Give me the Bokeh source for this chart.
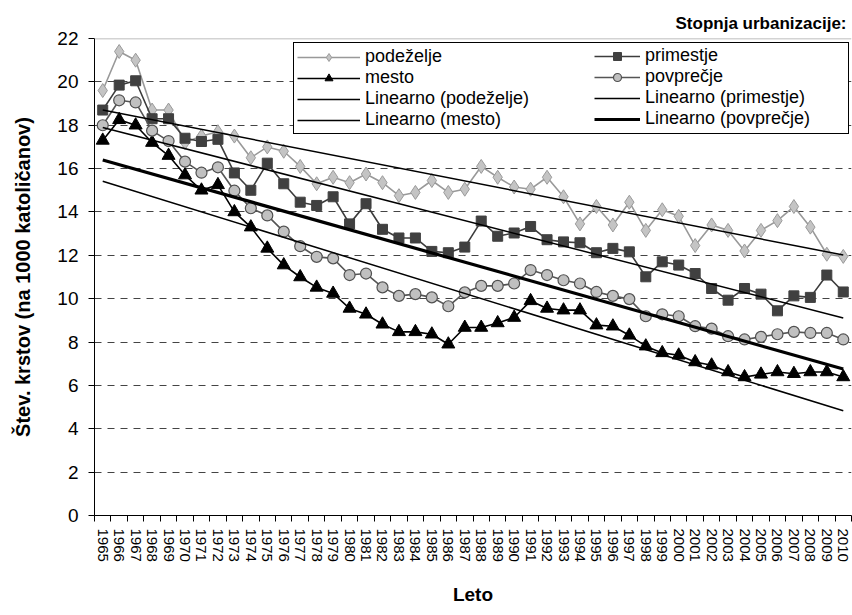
import numpy as np
from bokeh.plotting import figure
from bokeh.models import Range1d, FixedTicker, Legend, LegendItem, Span
from bokeh.embed import file_html
from bokeh.resources import INLINE

# ---- data ----
years = list(range(1965, 2011))
y_ticks = list(range(0, 23, 2))

podezelje = [19.6, 21.4, 21.0, 18.7, 18.7, 17.2, 17.5, 17.7, 17.5, 16.5,
             17.0, 16.8, 16.1, 15.3, 15.6, 15.35, 15.75, 15.35, 14.75, 14.9,
             15.45, 14.9, 15.05, 16.1, 15.6, 15.15, 15.05, 15.6, 14.7, 13.45,
             14.25, 13.4, 14.45, 13.15, 14.1, 13.8, 12.45, 13.4, 13.15, 12.2,
             13.15, 13.6, 14.25, 13.3, 12.05, 11.95]
primestje = [18.7, 19.85, 20.05, 18.3, 18.3, 17.4, 17.25, 17.35, 15.8, 15.0,
             16.25, 15.3, 14.45, 14.3, 14.7, 13.45, 14.38, 13.2, 12.8, 12.8,
             12.18, 12.12, 12.38, 13.58, 12.88, 13.03, 13.33, 12.72, 12.62, 12.58,
             12.12, 12.32, 12.16, 11.01, 11.7, 11.55, 11.16, 10.47, 9.93, 10.47,
             10.21, 9.44, 10.13, 10.06, 11.09, 10.31]
mesto = [17.3, 18.25, 18.0, 17.2, 16.6, 15.7, 15.0, 15.25, 14.0, 13.3,
         12.32, 11.55, 11.0, 10.52, 10.24, 9.55, 9.28, 8.82, 8.47, 8.47,
         8.36, 7.9, 8.67, 8.67, 8.88, 9.13, 9.9, 9.55, 9.47, 9.47,
         8.78, 8.73, 8.31, 7.81, 7.5, 7.39, 7.08, 6.93, 6.62, 6.39,
         6.51, 6.62, 6.54, 6.62, 6.62, 6.39]
povprecje = [18.0, 19.15, 19.05, 17.75, 17.27, 16.32, 15.81, 16.06, 14.98, 14.17,
             13.84, 13.09, 12.42, 11.93, 11.86, 11.09, 11.16, 10.52, 10.13, 10.21,
             10.06, 9.65, 10.29, 10.59, 10.59, 10.7, 11.32, 11.09, 10.85, 10.7,
             10.31, 10.13, 9.98, 9.19, 9.28, 9.19, 8.73, 8.62, 8.27, 8.12,
             8.24, 8.36, 8.47, 8.42, 8.42, 8.12]

FONT = "Liberation Sans"

p = figure(width=852, height=615, output_backend="svg", toolbar_location=None,
           x_range=Range1d(years[0] - 0.5, years[-1] + 0.5),
           y_range=Range1d(y_ticks[0], y_ticks[-1]),
           min_border_left=94, min_border_right=1, min_border_top=38,
           min_border_bottom=100)
p.outline_line_color = None
p.background_fill_color = "white"

p.title.text = "Stopnja urbanizacije:"
p.title.align = "right"
p.title.text_font = FONT
p.title.text_font_size = "17px"
p.title.text_font_style = "bold"
p.title.text_color = "black"
p.title.standoff = 12
p.title.offset = 5

# x axis
xa = p.xaxis[0]
xa.ticker = FixedTicker(ticks=years, minor_ticks=[y - 0.5 for y in years] + [years[-1] + 0.5])
xa.major_tick_out = 0
xa.major_tick_in = 0
xa.minor_tick_out = 6
xa.minor_tick_in = 0
xa.minor_tick_line_color = "black"
xa.major_label_orientation = "vertical"
xa.major_label_text_font = FONT
xa.major_label_text_font_size = "15px"
xa.major_label_text_color = "black"
xa.major_label_standoff = 7
xa.axis_line_color = "black"
xa.axis_label = "Leto"
xa.axis_label_text_font = FONT
xa.axis_label_text_font_size = "19px"
xa.axis_label_text_font_style = "bold"
xa.axis_label_text_color = "black"
xa.axis_label_standoff = 19

# y axis
ya = p.yaxis[0]
ya.ticker = FixedTicker(ticks=y_ticks)
ya.minor_tick_line_color = None
ya.major_tick_out = 6
ya.major_tick_in = 0
ya.major_tick_line_color = "black"
ya.axis_line_color = "black"
ya.major_label_text_font = FONT
ya.major_label_text_font_size = "19px"
ya.major_label_text_color = "black"
ya.major_label_standoff = 10
ya.axis_label = "Štev. krstov (na 1000 katoličanov)"
ya.axis_label_text_font = FONT
ya.axis_label_text_font_size = "20px"
ya.axis_label_text_font_style = "bold"
ya.axis_label_text_color = "black"
ya.axis_label_standoff = 20

p.xgrid.visible = False
p.ygrid.ticker = FixedTicker(ticks=y_ticks[1:-1])
p.ygrid.grid_line_color = "#444444"
p.ygrid.grid_line_dash = "7 6"
p.ygrid.grid_line_width = 1

p.add_layout(Span(location=y_ticks[-1], dimension="width", line_color="#a8a8a8", line_width=1.5))

# series
l_pod = p.line(years, podezelje, line_color="#999999", line_width=1.6)
s_pod = p.scatter(years, podezelje, marker="diamond", size=14, fill_color="#c4c4c4",
                  line_color="#9a9a9a", line_width=1)
l_pri = p.line(years, primestje, line_color="#3c3c3c", line_width=1.6)
s_pri = p.scatter(years, primestje, marker="square", size=10, fill_color="#404040",
                  line_color="#404040", line_width=1)
l_mes = p.line(years, mesto, line_color="black", line_width=1.6)
s_mes = p.scatter(years, mesto, marker="triangle", size=13, fill_color="black",
                  line_color="black", line_width=1)
l_pov = p.line(years, povprecje, line_color="#555555", line_width=1.6)
s_pov = p.scatter(years, povprecje, marker="circle", size=11, fill_color="#c0c0c0",
                  line_color="#505050", line_width=1.2)

xs = np.array(years, dtype=float)
x_end = [years[0], years[-1]]


def trend(vals):
    k, n = np.polyfit(xs, np.array(vals), 1)
    return [k * x + n for x in x_end]


t_pod = p.line(x_end, trend(podezelje), line_color="black", line_width=1.5)
t_pri = p.line(x_end, trend(primestje), line_color="black", line_width=1.5)
t_mes = p.line(x_end, trend(mesto), line_color="black", line_width=1.5)
t_pov = p.line(x_end, trend(povprecje), line_color="black", line_width=3.2)

common = dict(orientation="vertical", spacing=0, padding=3, label_height=20,
              glyph_height=20, label_text_font=FONT, label_text_font_size="18px",
              label_text_color="black", label_standoff=5, margin=0)

# legend box: left 293, top 44 (frame left 94, frame bottom 515)
leg_a = Legend(items=[
    LegendItem(label="podeželje", renderers=[l_pod, s_pod]),
    LegendItem(label="mesto", renderers=[l_mes, s_mes]),
    LegendItem(label="Linearno (podeželje)", renderers=[t_pod]),
    LegendItem(label="Linearno (mesto)", renderers=[t_mes]),
], location=(199, 381), glyph_width=63, label_width=480,
    border_line_color="black", border_line_width=1.2, border_line_alpha=1.0,
    background_fill_color="white", background_fill_alpha=1.0, **common)

leg_b = Legend(items=[
    LegendItem(label="primestje", renderers=[l_pri, s_pri]),
    LegendItem(label="povprečje", renderers=[l_pov, s_pov]),
    LegendItem(label="Linearno (primestje)", renderers=[t_pri]),
    LegendItem(label="Linearno (povprečje)", renderers=[t_pov]),
], location=(500, 386), glyph_width=46, label_width=100,
    border_line_color=None, background_fill_alpha=0.0, **common)

p.add_layout(leg_a)
p.add_layout(leg_b)

open("out.html", "w").write(file_html(p, INLINE))
